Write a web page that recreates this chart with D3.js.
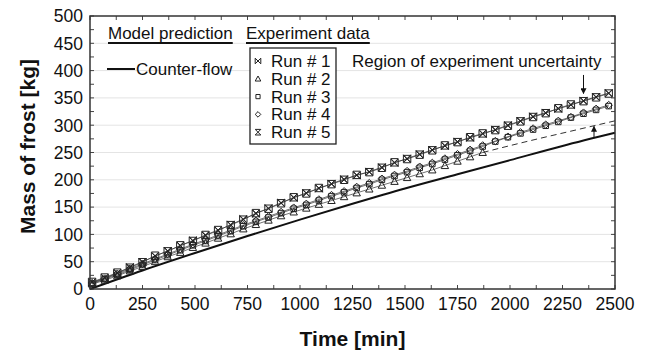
<!DOCTYPE html>
<html>
<head>
<meta charset="utf-8">
<script src="https://cdn.jsdelivr.net/npm/d3@7"></script>
<style>
  body { margin: 0; background: #fff; }
  text { font-family: "Liberation Sans", Arial, sans-serif; fill: #111; }
  .tick-label { font-size: 17.5px; }
  .axis-title { font-size: 21px; font-weight: bold; }
  .legend-text { font-size: 17px; }
</style>
</head>
<body>
<svg width="651" height="354"></svg>
<script>
const svg = d3.select("svg");
const width = +svg.attr("width");
const height = +svg.attr("height");

// measurement times of the experiment runs [min]
const times = [10, 70, 130, 190, 250, 310, 370, 430, 490, 550, 610, 670, 730, 790, 850,
  910, 970, 1030, 1090, 1150, 1210, 1270, 1330, 1390, 1450, 1510, 1570, 1630, 1690,
  1750, 1810, 1870, 1930, 1990, 2050, 2110, 2170, 2230, 2290, 2350, 2410, 2470];

// mass of frost [kg]
const run1 = [12, 20, 29, 40, 50, 60, 70, 79, 89, 98, 107, 118, 128, 138, 148, 158, 167, 176,
  184, 193, 201, 208, 215, 223, 231, 239, 247, 255, 262, 270, 277, 284, 292, 300, 308, 316,
  323, 330, 337, 345, 352, 359];
const run2 = [9, 16, 24, 33, 41, 50, 59, 67, 76, 84, 93, 101, 110, 118, 126, 134, 141, 148,
  155, 162, 169, 176, 183, 190, 197, 204, 211, 218, 226, 234, 242, 250];
const run3 = [10, 18, 26, 35, 44, 53, 62, 71, 80, 88, 97, 106, 115, 123, 131, 139, 147, 154,
  162, 170, 177, 185, 192, 200, 207, 214, 222, 229, 237, 245, 253, 261, 270, 278, 285, 292,
  299, 306, 314, 321, 328, 335];
const run4 = [11, 19, 28, 37, 46, 55, 64, 73, 82, 90, 99, 108, 117, 125, 133, 141, 149, 156,
  164, 172, 179, 187, 194, 202, 209, 216, 224, 231, 239, 247, 255, 263, 271, 279, 287, 294,
  301, 308, 315, 323, 330, 337];
const run5 = [13, 21, 30, 39, 49, 61, 69, 80, 88, 99, 108, 117, 127, 139, 147, 157, 168, 175,
  185, 192, 200, 209, 214, 222, 232, 238, 246, 254, 263, 269, 278, 285, 291, 299, 307, 315,
  322, 331, 338, 344, 351, 358];

// model prediction (counter-flow)
const modelTimes = [0, 250, 500, 750, 1000, 1250, 1500, 1750, 2000, 2250, 2500];
const modelMass = [0, 34, 66, 97, 127, 156, 184, 210, 236, 262, 286];

// lower bound of experiment uncertainty (dashed)
const boundTimes = [1870, 2100, 2300, 2500];
const boundMass = [250, 272, 290, 308];

const runNames = ["Run # 1", "Run # 2", "Run # 3", "Run # 4", "Run # 5"];
const runSymbols = ["bowtie", "triangle", "square", "diamond", "hourglass"];
const runs = [run1, run2, run3, run4, run5];

const xTicks = [0, 250, 500, 750, 1000, 1250, 1500, 1750, 2000, 2250, 2500];
const yTicks = [0, 50, 100, 150, 200, 250, 300, 350, 400, 450, 500];

const margin = { top: 16, right: 36, bottom: 65, left: 90 };
const innerWidth = width - margin.left - margin.right;
const innerHeight = height - margin.top - margin.bottom;

const xScale = d3.scaleLinear().domain([0, 2500]).range([0, innerWidth]);
const yScale = d3.scaleLinear().domain([0, 500]).range([innerHeight, 0]);

const g = svg.append("g").attr("transform", `translate(${margin.left},${margin.top})`);

// light horizontal grid
g.append("g")
  .selectAll("line")
  .data(yTicks.slice(1, -1))
  .join("line")
  .attr("x1", 0)
  .attr("x2", innerWidth)
  .attr("y1", d => yScale(d))
  .attr("y2", d => yScale(d))
  .attr("stroke", "#e4e4e4")
  .attr("stroke-width", 1);

// inward minor ticks on all four sides
const xMinor = d3.range(0, 2501, 125);
const yMinor = d3.range(0, 501, 25);
const tickLen = 4;
const ticksG = g.append("g").attr("stroke", "#444").attr("stroke-width", 1);
xMinor.forEach(t => {
  ticksG.append("line").attr("x1", xScale(t)).attr("x2", xScale(t))
    .attr("y1", innerHeight).attr("y2", innerHeight - tickLen);
  ticksG.append("line").attr("x1", xScale(t)).attr("x2", xScale(t))
    .attr("y1", 0).attr("y2", tickLen);
});
yMinor.forEach(v => {
  ticksG.append("line").attr("x1", 0).attr("x2", tickLen)
    .attr("y1", yScale(v)).attr("y2", yScale(v));
  ticksG.append("line").attr("x1", innerWidth).attr("x2", innerWidth - tickLen)
    .attr("y1", yScale(v)).attr("y2", yScale(v));
});

// tick labels
g.append("g")
  .selectAll("text")
  .data(xTicks)
  .join("text")
  .attr("class", "tick-label")
  .attr("x", d => xScale(d))
  .attr("y", innerHeight + 21)
  .attr("text-anchor", "middle")
  .text(d => d);

g.append("g")
  .selectAll("text")
  .data(yTicks)
  .join("text")
  .attr("class", "tick-label")
  .attr("x", -7)
  .attr("y", d => yScale(d))
  .attr("dy", "0.36em")
  .attr("text-anchor", "end")
  .text(d => d);

// axis titles
svg.append("text")
  .attr("class", "axis-title")
  .attr("transform", `translate(35,${margin.top + innerHeight / 2 - 6}) rotate(-90)`)
  .attr("text-anchor", "middle")
  .text("Mass of frost [kg]");

svg.append("text")
  .attr("class", "axis-title")
  .attr("x", margin.left + innerWidth / 2)
  .attr("y", 346)
  .attr("text-anchor", "middle")
  .text("Time [min]");

// marker shapes
const symbolPath = (type, s) => {
  switch (type) {
    case "bowtie": return `M${-s},${-s}L${s},${s}L${s},${-s}L${-s},${s}Z`;
    case "hourglass": return `M${-s},${-s}L${s},${-s}L${-s},${s}L${s},${s}Z`;
    case "triangle": return `M0,${-s}L${s},${s * 0.8}L${-s},${s * 0.8}Z`;
    case "square": { const q = s * 0.75; return `M${-q},${-q}H${q}V${q}H${-q}Z`; }
    case "diamond": return `M0,${-s}L${s},0L0,${s}L${-s},0Z`;
  }
};

// model line
const line = d3.line()
  .x(d => xScale(d[0]))
  .y(d => yScale(d[1]))
  .curve(d3.curveMonotoneX);

g.append("path")
  .attr("d", line(d3.zip(modelTimes, modelMass)))
  .attr("fill", "none")
  .attr("stroke", "#111")
  .attr("stroke-width", 2);

g.append("path")
  .attr("d", line(d3.zip(boundTimes, boundMass)))
  .attr("fill", "none")
  .attr("stroke", "#333")
  .attr("stroke-width", 1)
  .attr("stroke-dasharray", "6,4");

// experiment runs
runs.forEach((vals, i) => {
  const pts = d3.zip(times.slice(0, vals.length), vals);
  g.append("path")
    .attr("d", d3.line().x(d => xScale(d[0])).y(d => yScale(d[1]))(pts))
    .attr("fill", "none")
    .attr("stroke", "#333")
    .attr("stroke-width", 0.7);
  g.append("g")
    .selectAll("path")
    .data(pts)
    .join("path")
    .attr("transform", d => `translate(${xScale(d[0])},${yScale(d[1])})`)
    .attr("d", symbolPath(runSymbols[i], 3.7))
    .attr("fill", "none")
    .attr("stroke", "#222")
    .attr("stroke-width", 1);
});

// frame
g.append("rect")
  .attr("width", innerWidth)
  .attr("height", innerHeight)
  .attr("fill", "none")
  .attr("stroke", "#333")
  .attr("stroke-width", 1.5);

// legend headings
const headings = [
  { label: "Model prediction", x: 108 },
  { label: "Experiment data", x: 246 }
];
headings.forEach(h => {
  const t = svg.append("text")
    .attr("class", "legend-text")
    .attr("x", h.x)
    .attr("y", 39)
    .text(h.label);
  const w = t.node().getComputedTextLength();
  svg.append("line")
    .attr("x1", h.x).attr("x2", h.x + w)
    .attr("y1", 43).attr("y2", 43)
    .attr("stroke", "#111").attr("stroke-width", 1.8);
});

svg.append("line")
  .attr("x1", 107).attr("x2", 135)
  .attr("y1", 69).attr("y2", 69)
  .attr("stroke", "#111").attr("stroke-width", 2);
svg.append("text")
  .attr("class", "legend-text")
  .attr("x", 136)
  .attr("y", 75)
  .text("Counter-flow");

// legend box for runs
svg.append("rect")
  .attr("x", 250).attr("y", 48)
  .attr("width", 86).attr("height", 96)
  .attr("fill", "#fff")
  .attr("stroke", "#222")
  .attr("stroke-width", 1.3);

const legend = svg.selectAll(".legend")
  .data(runNames)
  .join("g")
  .attr("class", "legend")
  .attr("transform", (d, i) => `translate(258,${61 + i * 17.8})`);

legend.append("path")
  .attr("d", (d, i) => symbolPath(runSymbols[i], 2.8))
  .attr("fill", "none")
  .attr("stroke", "#222")
  .attr("stroke-width", 1);

legend.append("text")
  .attr("class", "legend-text")
  .attr("x", 13)
  .attr("y", 6)
  .text(d => d);

// annotation
svg.append("text")
  .attr("class", "legend-text")
  .attr("x", 352)
  .attr("y", 67)
  .text("Region of experiment uncertainty");

const defs = svg.append("defs");
defs.append("marker")
  .attr("id", "head")
  .attr("viewBox", "0 0 10 10")
  .attr("refX", 9).attr("refY", 5)
  .attr("markerWidth", 6).attr("markerHeight", 6)
  .attr("orient", "auto")
  .append("path")
  .attr("d", "M0,0L10,5L0,10Z")
  .attr("fill", "#111");

g.append("line")
  .attr("x1", xScale(2350)).attr("x2", xScale(2350))
  .attr("y1", yScale(392)).attr("y2", yScale(358))
  .attr("stroke", "#111").attr("stroke-width", 1)
  .attr("marker-end", "url(#head)");

g.append("line")
  .attr("x1", xScale(2400)).attr("x2", xScale(2400))
  .attr("y1", yScale(278)).attr("y2", yScale(298))
  .attr("stroke", "#111").attr("stroke-width", 1)
  .attr("marker-end", "url(#head)");
</script>
</body>
</html>
